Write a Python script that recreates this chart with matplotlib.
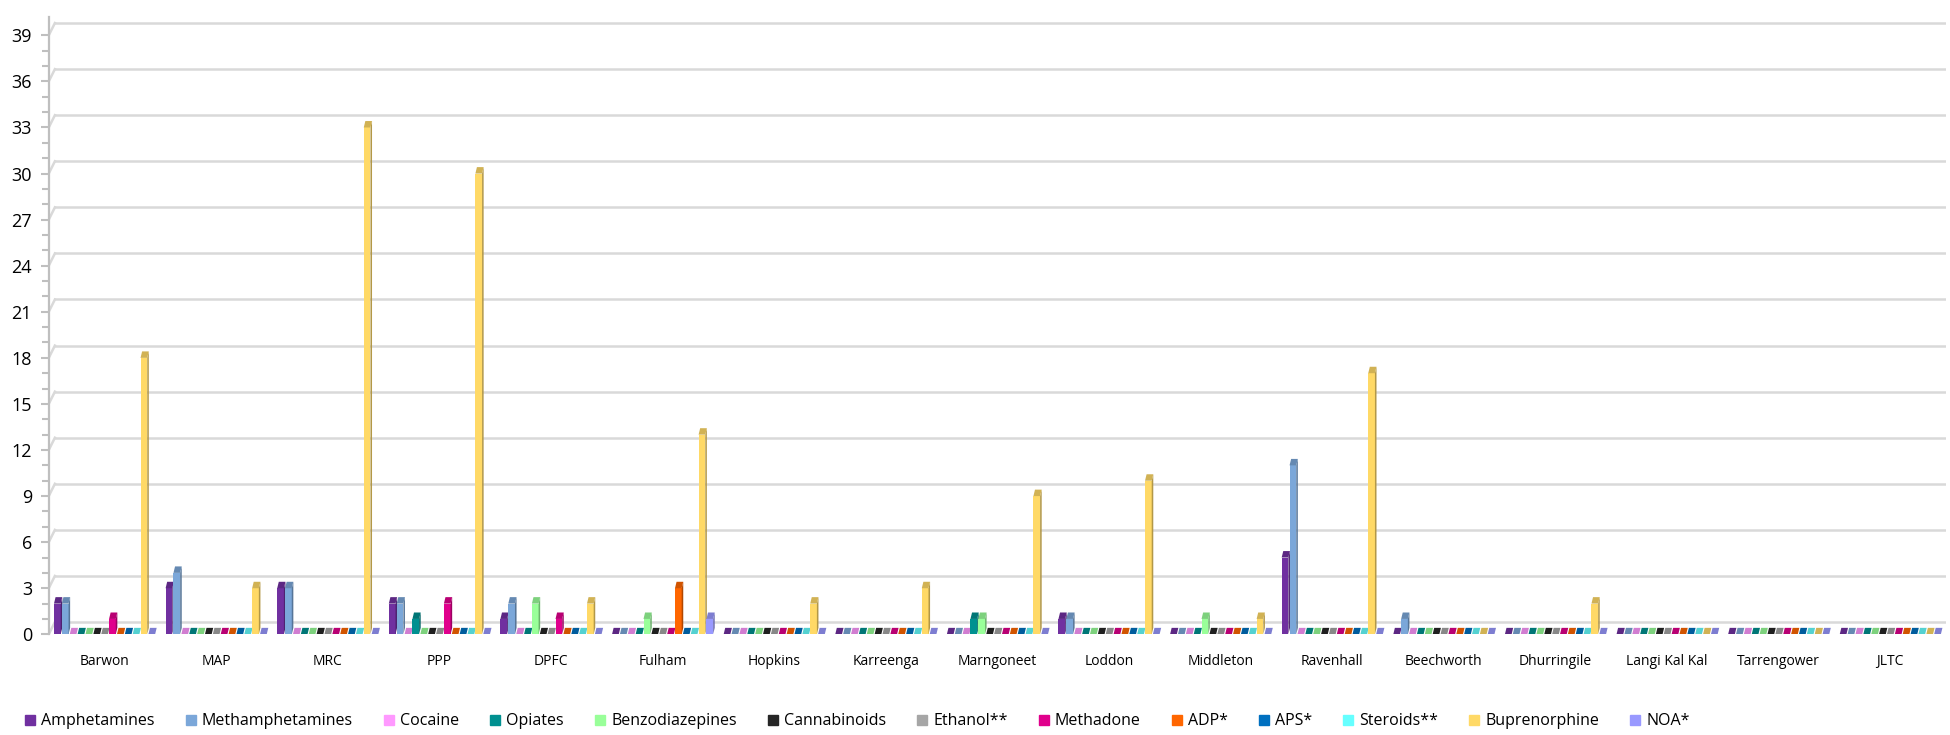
import numpy as np
import matplotlib.pyplot as plt
from matplotlib.patches import Polygon
from matplotlib.lines import Line2D
from matplotlib import colors as mcolors

plt.rcParams['font.family'] = ['Open Sans', 'DejaVu Sans']

sites = ['Barwon', 'MAP', 'MRC', 'PPP', 'DPFC', 'Fulham', 'Hopkins', 'Karreenga',
         'Marngoneet', 'Loddon', 'Middleton', 'Ravenhall', 'Beechworth',
         'Dhurringile', 'Langi Kal Kal', 'Tarrengower', 'JLTC']

drugs = ['Amphetamines', 'Methamphetamines', 'Cocaine', 'Opiates', 'Benzodiazepines',
         'Cannabinoids', 'Ethanol**', 'Methadone', 'ADP*', 'APS*', 'Steroids**',
         'Buprenorphine', 'NOA*']

amphetamines     = [2, 3, 3, 2, 1, 0, 0, 0, 0, 1, 0, 5, 0, 0, 0, 0, 0]
methamphetamines = [2, 4, 3, 2, 2, 0, 0, 0, 0, 1, 0, 11, 1, 0, 0, 0, 0]
cocaine          = [0, 0, 0, 0, 0, 0, 0, 0, 0, 0, 0, 0, 0, 0, 0, 0, 0]
opiates          = [0, 0, 0, 1, 0, 0, 0, 0, 1, 0, 0, 0, 0, 0, 0, 0, 0]
benzodiazepines  = [0, 0, 0, 0, 2, 1, 0, 0, 1, 0, 1, 0, 0, 0, 0, 0, 0]
cannabinoids     = [0, 0, 0, 0, 0, 0, 0, 0, 0, 0, 0, 0, 0, 0, 0, 0, 0]
ethanol          = [0, 0, 0, 0, 0, 0, 0, 0, 0, 0, 0, 0, 0, 0, 0, 0, 0]
methadone        = [1, 0, 0, 2, 1, 0, 0, 0, 0, 0, 0, 0, 0, 0, 0, 0, 0]
adp              = [0, 0, 0, 0, 0, 3, 0, 0, 0, 0, 0, 0, 0, 0, 0, 0, 0]
aps              = [0, 0, 0, 0, 0, 0, 0, 0, 0, 0, 0, 0, 0, 0, 0, 0, 0]
steroids         = [0, 0, 0, 0, 0, 0, 0, 0, 0, 0, 0, 0, 0, 0, 0, 0, 0]
buprenorphine    = [18, 3, 33, 30, 2, 13, 2, 3, 9, 10, 1, 17, 0, 2, 0, 0, 0]
noa              = [0, 0, 0, 0, 0, 1, 0, 0, 0, 0, 0, 0, 0, 0, 0, 0, 0]

series = [amphetamines, methamphetamines, cocaine, opiates, benzodiazepines,
          cannabinoids, ethanol, methadone, adp, aps, steroids, buprenorphine, noa]

drug_colors = ['#7030A0', '#7BA7D9', '#FF99FF', '#009090', '#99FF99', '#262626',
               '#A6A6A6', '#E0008C', '#FF6600', '#0070C0', '#66FFFF', '#FFD966',
               '#9999FF']

def shade(c, f):
    r, g, b = mcolors.to_rgb(c)
    return (r * f, g * f, b * f)

fig = plt.figure(figsize=(19.5, 7.35), dpi=100)
ax = fig.add_axes([0.025, 0.137, 0.973, 0.84])

x = np.arange(len(sites))
pitch = 0.0705
w = 0.060
dx = 0.014   # depth of the fake 3D faces
dy = 0.42

# gridlines with the little slanted bit at the wall
gdx, gdy = 0.055, 0.8
for yv in range(0, 40, 3):
    ax.plot([-0.5, -0.5 + gdx], [yv, yv + gdy], color='#D9D9D9', lw=1.8, zorder=0)
    ax.plot([-0.5 + gdx, 16.5], [yv + gdy, yv + gdy], color='#D9D9D9', lw=1.8, zorder=0)

for i, (vals, c) in enumerate(zip(series, drug_colors)):
    xs = x + (i - 6) * pitch
    ax.bar(xs, vals, width=w, color=c, zorder=3, linewidth=0)
    for xc, v in zip(xs, vals):
        x0 = xc - w / 2
        x1 = xc + w / 2
        side = Polygon([(x1, 0), (x1 + dx, dy), (x1 + dx, v + dy), (x1, v)],
                       closed=True, color=shade(c, 0.7), lw=0, zorder=3)
        top = Polygon([(x0, v), (x0 + dx, v + dy), (x1 + dx, v + dy), (x1, v)],
                      closed=True, color=shade(c, 0.82), lw=0, zorder=3)
        ax.add_patch(side)
        ax.add_patch(top)

ax.set_xlim(-0.5, 16.5)
ax.set_ylim(0, 40.2)
ax.set_yticks(np.arange(0, 40, 3))
ax.set_yticks(np.arange(0, 40, 1), minor=True)
ax.set_xticks(x)
ax.set_xticklabels(sites, fontsize=10)
ax.tick_params(axis='x', length=0, pad=14)
ax.tick_params(axis='y', which='both', direction='out', color='#BFBFBF', width=1.5,
               labelsize=13, pad=6)
ax.tick_params(axis='y', which='major', length=6)
ax.tick_params(axis='y', which='minor', length=5)
for s in ['top', 'right', 'bottom']:
    ax.spines[s].set_visible(False)
ax.spines['left'].set_color('#BFBFBF')
ax.spines['left'].set_linewidth(1.6)

handles = [Line2D([], [], marker='s', linestyle='none', markersize=7,
                  markerfacecolor=c, markeredgecolor=c) for c in drug_colors]
fig.legend(handles, drugs, loc='lower left', bbox_to_anchor=(0.004, -0.012), ncol=13,
           frameon=False, fontsize=11.5, handletextpad=0.2, columnspacing=1.75,
           handlelength=1.0)

fig.savefig('out.png', dpi=100)
